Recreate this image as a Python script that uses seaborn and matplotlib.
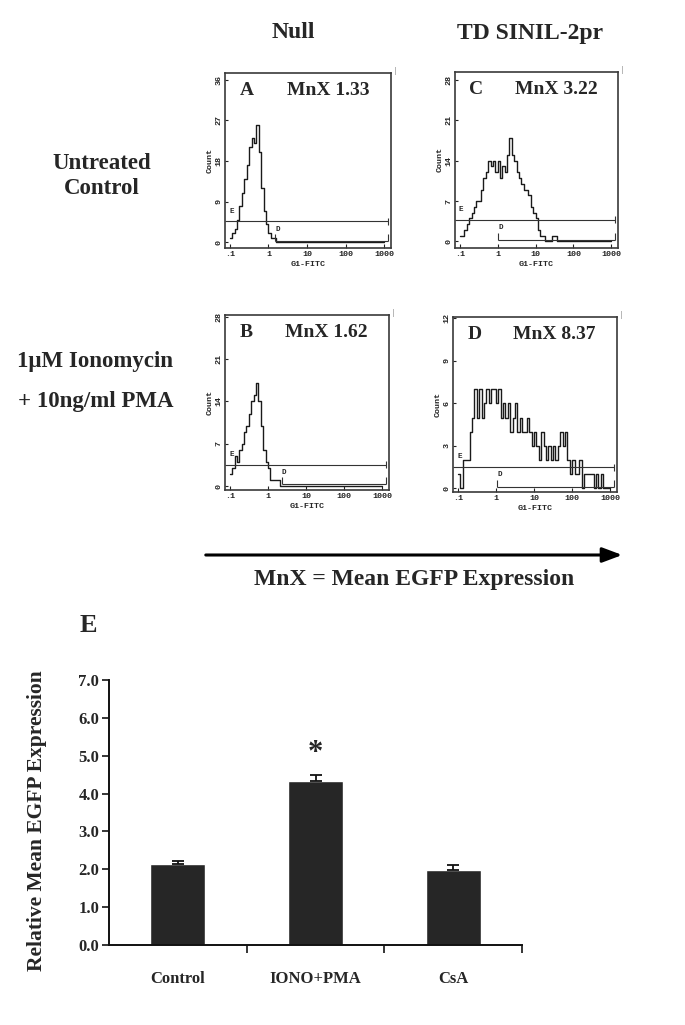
import numpy as np
import pandas as pd
import matplotlib
matplotlib.use("Agg")
import matplotlib.pyplot as plt
import seaborn as sns
from matplotlib.ticker import FixedLocator, NullFormatter, LogLocator

sns.set_theme(style="white")
plt.rcParams["font.family"] = ["Liberation Serif", "DejaVu Serif"]

# ---------------- data ----------------
# flow histograms: counts in 64 log bins (16 per decade) from 0.1 to 1000
n_bins = 64
counts_A = [1, 2, 3, 5, 8, 11, 14, 17, 21, 23, 22, 26, 20, 12, 7, 4, 2, 1, 1]
counts_C = [1, 1, 2, 3, 4, 5, 6, 7, 7, 9, 11, 12, 14, 13, 14, 12, 14, 11, 13, 12,
            15, 18, 15, 14, 12, 11, 10, 9, 9, 8, 6, 5, 4, 2, 1, 1, 0, 0, 0, 1, 1]
counts_B = [2, 3, 5, 4, 6, 7, 9, 10, 12, 14, 15, 17, 14, 10, 6, 4, 3, 1, 1, 1, 1]
counts_D = [1, 0, 2, 2, 2, 4, 5, 7, 5, 7, 5, 6, 7, 6, 7, 7, 6, 7, 5, 6,
            5, 6, 4, 5, 6, 4, 5, 4, 4, 5, 4, 3, 4, 3, 2, 4, 3, 2, 3, 2,
            3, 2, 3, 4, 3, 4, 2, 1, 2, 1, 1, 2, 0, 1, 1, 1, 1, 0, 1, 0, 1]

panel_letters = ["A", "C", "B", "D"]
panel_mnx = ["MnX 1.33", "MnX 3.22", "MnX 1.62", "MnX 8.37"]
panel_counts = [counts_A, counts_C, counts_B, counts_D]
panel_yticks = [[0, 9, 18, 27, 36], [0, 7, 14, 21, 28], [0, 7, 14, 21, 28], [0, 3, 6, 9, 12]]
gate_E_level = [4.6, 3.75, 3.5, 1.5]
gate_D_start = [1.5, 1.05, 2.3, 1.1]
gate_D_level = [0.2, 0.3, 0.3, 0.1]
flow_xticks = [0.1, 1, 10, 100, 1000]
flow_xticklabels = [".1", "1", "10", "100", "1000"]

col_headers = ["Null", "TD SINIL-2pr"]
row1_label = "Untreated\nControl"
row2_lines = ["1\u03bcM Ionomycin", "+ 10ng/ml PMA"]

categories = ["Control", "IONO+PMA", "CsA"]
rel_expr = [2.15, 4.33, 1.99]
rel_err = [0.08, 0.17, 0.13]
bar_yticks = [0, 1, 2, 3, 4, 5, 6, 7]

# ---------------- figure ----------------
W, H = 685, 1025
fig = plt.figure(figsize=(W / 100, H / 100), dpi=100)
fig.patch.set_facecolor("white")

def fx(px):
    return px / W

def fy(py):
    return 1 - py / H

# panel boxes in pixels: left, top, right, bottom
boxes = [(225, 73, 391, 248), (455, 72, 618, 248), (225, 315, 389, 490), (453, 317, 617, 492)]
ylims = [(-1.3, 37.5), (-1.15, 29.4), (-0.65, 28.3), (-0.25, 12.1)]

mono = "Liberation Mono"
for i in range(4):
    l, t, r, b = boxes[i]
    ax = fig.add_axes([fx(l), fy(b), fx(r - l), (b - t) / H])
    cnt = list(panel_counts[i]) + [0] * (n_bins - len(panel_counts[i]))
    centers = 10 ** (-1 + (np.arange(n_bins) + 0.5) / 16)
    df = pd.DataFrame({"fitc": centers, "count": cnt})
    sns.histplot(data=df, x="fitc", weights="count", bins=n_bins, binrange=(-1, 3),
                 log_scale=True, element="step", fill=False, color="#1a1a1a",
                 linewidth=1.0, ax=ax)
    ax.set_xlim(0.075, 1500)
    ax.set_ylim(*ylims[i])
    # gates
    ax.hlines(gate_E_level[i], 0.075, 1250, color="#333333", lw=0.8)
    ax.vlines(1250, gate_E_level[i] - 0.02 * ylims[i][1], gate_E_level[i] + 0.02 * ylims[i][1],
              color="#333333", lw=0.8)
    ax.hlines(gate_D_level[i], gate_D_start[i], 1250, color="#333333", lw=0.8)
    for xe in (gate_D_start[i], 1250):
        ax.vlines(xe, gate_D_level[i], gate_D_level[i] + 0.04 * ylims[i][1], color="#333333", lw=0.8)
    ax.text(0.11, gate_E_level[i] + 0.04 * ylims[i][1], "E", fontsize=5.5, family=mono,
            fontweight="bold", ha="center", va="bottom")
    ax.text(gate_D_start[i] * 1.15, gate_D_level[i] + 0.05 * ylims[i][1], "D", fontsize=5.5,
            family=mono, fontweight="bold", ha="center", va="bottom")
    # axes styling
    ax.set_xticks(flow_xticks)
    ax.set_xticklabels(flow_xticklabels, family=mono, fontsize=6, fontweight="bold")
    ax.xaxis.set_minor_locator(LogLocator(base=10, subs=np.arange(2, 10)))
    ax.xaxis.set_minor_formatter(NullFormatter())
    ax.set_yticks(panel_yticks[i])
    ax.set_yticklabels([str(v) for v in panel_yticks[i]], family=mono, fontsize=6,
                       fontweight="bold", rotation=90, va="center")
    ax.tick_params(axis="x", which="major", direction="in", length=3, width=0.8, pad=2,
                   bottom=True, colors="#222222")
    ax.tick_params(axis="x", which="minor", direction="in", length=2, width=0.6, bottom=True)
    ax.tick_params(axis="y", which="major", direction="in", length=2, width=0.8, pad=2,
                   left=True, colors="#222222")
    ax.set_xlabel("G1-FITC", family=mono, fontsize=6, fontweight="bold", labelpad=2)
    ax.set_ylabel("Count", family=mono, fontsize=6, fontweight="bold", labelpad=1)
    for s in ax.spines.values():
        s.set_visible(True)
        s.set_color("#3a3a3a")
        s.set_linewidth(1.2)
    ax.text(0.13, 0.9, panel_letters[i], transform=ax.transAxes, fontsize=14,
            fontweight="bold", ha="center", va="center")
    ax.text(0.62, 0.9, panel_mnx[i], transform=ax.transAxes, fontsize=14,
            fontweight="bold", ha="center", va="center")
    fig.text(fx(r + 4), fy(t - 2), "|", fontsize=6, ha="center", va="center", color="#444444")

# headers
fig.text(fx(293), fy(33), col_headers[0], fontsize=17, fontweight="bold", ha="center", va="center")
fig.text(fx(530), fy(33), col_headers[1], fontsize=17, fontweight="bold", ha="center", va="center")
fig.text(fx(102), fy(176), row1_label, fontsize=16.5, fontweight="bold", ha="center",
         va="center", linespacing=1.2)
fig.text(fx(173), fy(362), row2_lines[0], fontsize=16.5, fontweight="bold", ha="right", va="center")
fig.text(fx(173), fy(401), row2_lines[1], fontsize=16.5, fontweight="bold", ha="right", va="center")

# arrow
fig.add_artist(matplotlib.patches.FancyArrowPatch(
    (fx(203), fy(555)), (fx(625), fy(555)), transform=fig.transFigure,
    arrowstyle="-|>,head_length=12,head_width=4.5", lw=2.2, color="black", mutation_scale=1))
fig.text(fx(414), fy(579), "MnX = Mean EGFP Expression", fontsize=17, fontweight="bold",
         ha="center", va="center")

# ---------------- bar chart ----------------
fig.text(fx(88), fy(625), "E", fontsize=19, fontweight="bold", ha="center", va="center")
axb = fig.add_axes([fx(109), fy(945), fx(522 - 109), (945 - 680) / H])
bdf = pd.DataFrame({"cond": categories, "val": rel_expr})
sns.barplot(data=bdf, x="cond", y="val", color="#262626", saturation=1, width=0.4,
            errorbar=None, ax=axb)
axb.errorbar(x=np.arange(len(categories)), y=rel_expr,
             yerr=[np.zeros(len(rel_err)), rel_err], fmt="none", ecolor="#111111",
             elinewidth=1.3, capsize=4, capthick=1.3)
axb.text(1, 5.05, "*", fontsize=22, fontweight="bold", ha="center", va="center")
axb.set_xlim(-0.5, 2.5)
axb.set_ylim(0, 7)
axb.set_yticks(bar_yticks)
axb.set_yticklabels([f"{v:.1f}" for v in bar_yticks], fontsize=12, fontweight="bold")
axb.set_xticks(range(len(categories)))
axb.set_xticklabels(categories, fontsize=12, fontweight="bold")
axb.xaxis.set_minor_locator(FixedLocator([0.5, 1.5, 2.5]))
axb.tick_params(axis="x", which="major", length=0, pad=19)
axb.tick_params(axis="x", which="minor", direction="out", length=6, width=1.3, bottom=True)
axb.tick_params(axis="y", which="major", direction="out", length=5, width=1.3, left=True, pad=2)
axb.set_xlabel("")
axb.set_ylabel("Relative Mean EGFP Expression", fontsize=15.5, fontweight="bold")
axb.yaxis.set_label_coords(-0.15, 0.47)
for side in ("top", "right"):
    axb.spines[side].set_visible(False)
for side in ("left", "bottom"):
    axb.spines[side].set_visible(True)
    axb.spines[side].set_color("#111111")
    axb.spines[side].set_linewidth(1.4)
axb.set_facecolor("white")

fig.savefig("out.png", dpi=100, facecolor="white")
